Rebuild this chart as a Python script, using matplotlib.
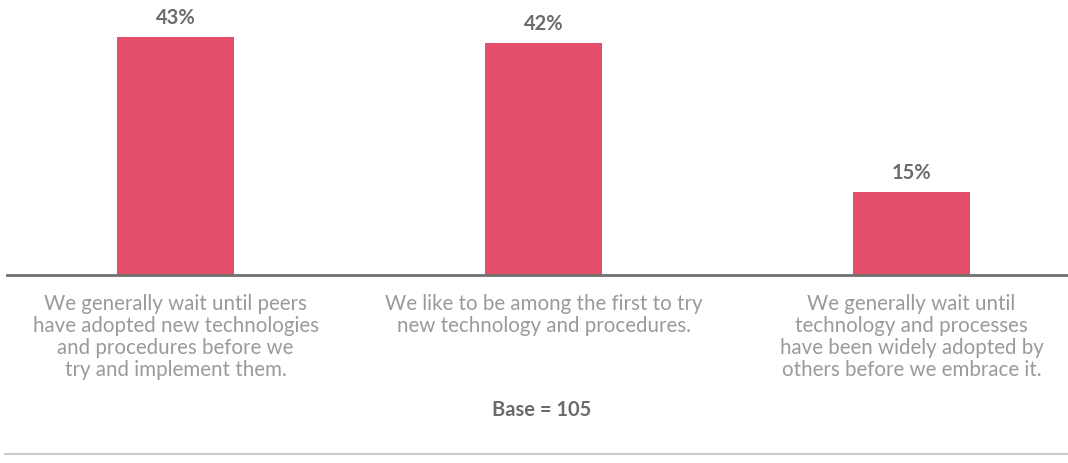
import matplotlib
matplotlib.use("Agg")
import matplotlib.pyplot as plt
from matplotlib.lines import Line2D
from matplotlib.transforms import blended_transform_factory

categories = [
    "We generally wait until peers\nhave adopted new technologies\nand procedures before we\ntry and implement them.",
    "We like to be among the first to try\nnew technology and procedures.",
    "We generally wait until\ntechnology and processes\nhave been widely adopted by\nothers before we embrace it.",
]
values = [43, 42, 15]
base_note = "Base = 105"

BAR = "#e34e6a"
VAL = "#6b6b6b"
LAB = "#9a9a9a"

W, H = 1068, 464
fig = plt.figure(figsize=(W / 100, H / 100), dpi=100)
plt.rcParams['font.family'] = ['Lato', 'DejaVu Sans']

# axes: baseline at y=276px from top
ax = fig.add_axes([7 / W, (H - 276) / H, 1 - 7 / W, 276 / H])
x = list(range(len(values)))
ax.bar(x, values, width=0.318, color=BAR, zorder=2)
ax.set_xlim(-0.458, 2.425)
ax.set_ylim(0, 276 * 43 / 238)

for xi, v in zip(x, values):
    ax.annotate(f"{v}%", (xi, v), xytext=(0, 10), textcoords="offset points",
                ha="center", va="baseline", fontsize=14.5, fontweight="bold", color=VAL)

for s in ["top", "right", "left"]:
    ax.spines[s].set_visible(False)
ax.spines["bottom"].set_color("#707070")
ax.spines["bottom"].set_linewidth(2)
ax.set_yticks([])
ax.set_xticks([])

tr = blended_transform_factory(ax.transData, fig.transFigure)
for xi, lab in zip(x, categories):
    ax.text(xi, 1 - 294 / H, lab, transform=tr, ha="center", va="top",
            multialignment="center", fontsize=14.8, color=LAB, linespacing=1.13)

fig.text(542 / W, 1 - 416 / H, base_note, ha="center", va="baseline",
         fontsize=14.5, fontweight="bold", color=VAL)

fig.add_artist(Line2D([5 / W, 1], [1 - 455 / H] * 2, color="#cccccc", lw=1.5,
                      transform=fig.transFigure))

fig.savefig("out.png", dpi=100, facecolor="white")
